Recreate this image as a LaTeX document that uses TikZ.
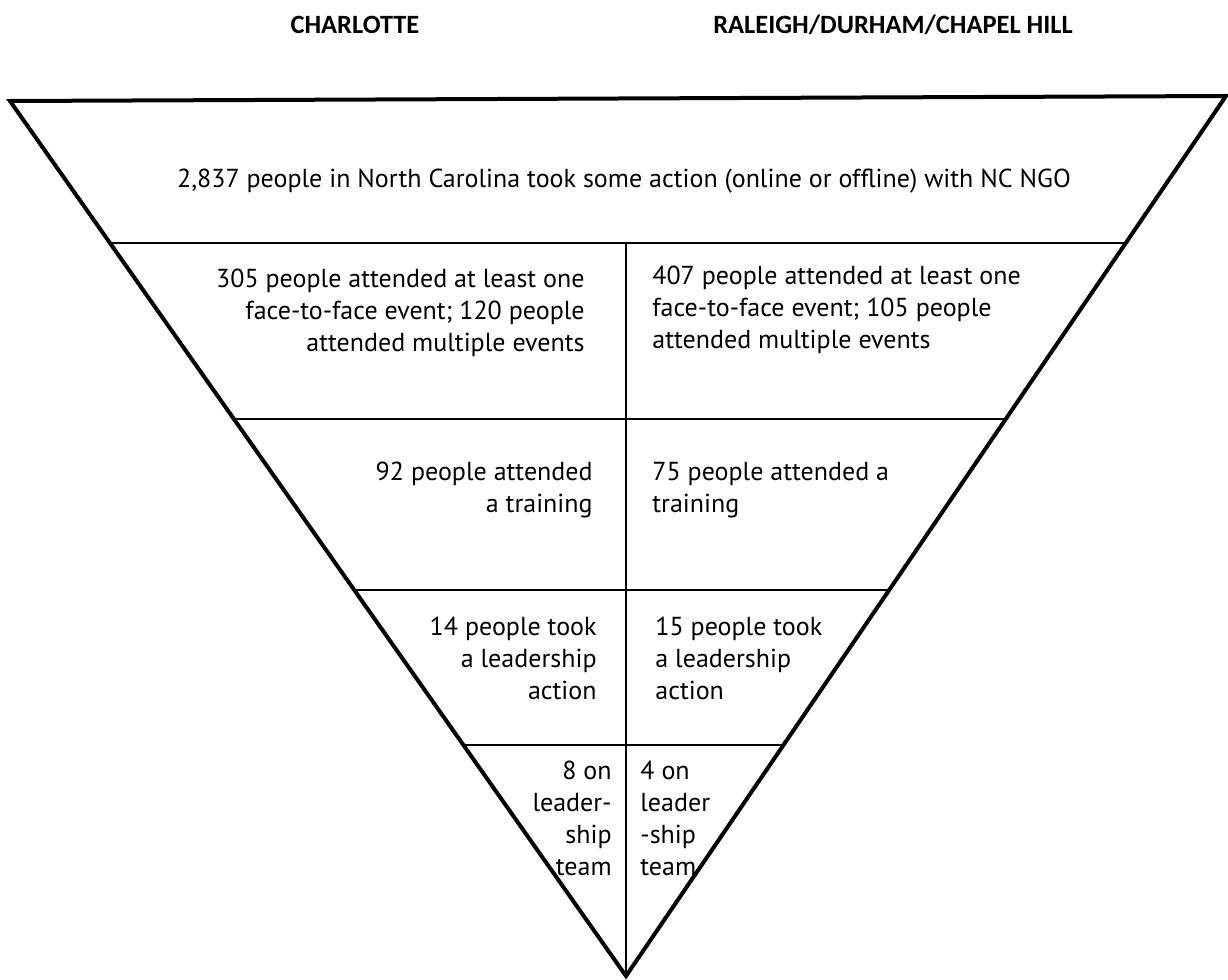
\documentclass[tikz,border=0pt]{standalone}
\usepackage{fontspec}
\setmainfont{PT Sans}
\newfontfamily\headfont{Carlito}
\newcommand\rowfont{\fontsize{13}{16}\selectfont}

\begin{document}
\begin{tikzpicture}[
    x=0.5pt, y=-0.5pt,
    outline/.style={line width=2pt, line join=miter},
    tier/.style={line width=0.9pt},
    divider/.style={line width=0.8pt},
    heading/.style={inner sep=0pt, font=\headfont\bfseries\fontsize{13.2}{15}\selectfont},
    lefttext/.style={anchor=north east, align=right, inner sep=0pt, font=\rowfont},
    righttext/.style={anchor=north west, align=left, inner sep=0pt, font=\rowfont}
  ]
    \useasboundingbox (0,0) rectangle (1228,980);

    % funnel outline and tiers
    \coordinate (tl) at (10,101);
    \coordinate (tr) at (1226,96);
    \coordinate (apex) at (626,976);

    \foreach \yy [count=\i] in {243,419,590,745} {
      \coordinate (l\i) at (intersection cs: first line={(tl)--(apex)}, second line={(0,\yy)--(100,\yy)});
      \coordinate (r\i) at (intersection cs: first line={(tr)--(apex)}, second line={(0,\yy)--(100,\yy)});
      \draw[tier] (l\i) -- (r\i);
    }
    \draw[divider] (l1 -| apex) -- (apex);
    \draw[outline] (tl) -- (tr) -- (apex) -- cycle;

    % column headings
    \node[heading] (charlotte) at (355,25) {CHARLOTTE};
    \node[heading] (triangle) at (893,25) {RALEIGH/DURHAM/CHAPEL HILL};

    % top tier
    \node[anchor=base, inner sep=0pt, font=\rowfont] (total) at (624,187)
      {2,837 people in North Carolina took some action (online or offline) with NC NGO};

    % Charlotte column
    \node[lefttext] (clt1) at (585,269) {305 people attended at least one\\face-to-face event; 120 people\\attended multiple events};
    \node[lefttext] (clt2) at (593,462) {92 people attended\\a training};
    \node[lefttext] (clt3) at (597,617) {14 people took\\a leadership\\action};
    \node[lefttext] (clt4) at (612,761) {8 on\\leader-\\ship\\team};

    % Triangle column
    \node[righttext] (rdu1) at (652,266) {407 people attended at least one\\face-to-face event; 105 people\\attended multiple events};
    \node[righttext] (rdu2) at (652,462) {75 people attended a\\training};
    \node[righttext] (rdu3) at (655,617) {15 people took\\a leadership\\action};
    \node[righttext] (rdu4) at (640,761) {4 on\\leader\\-ship\\team};
\end{tikzpicture}
\end{document}
